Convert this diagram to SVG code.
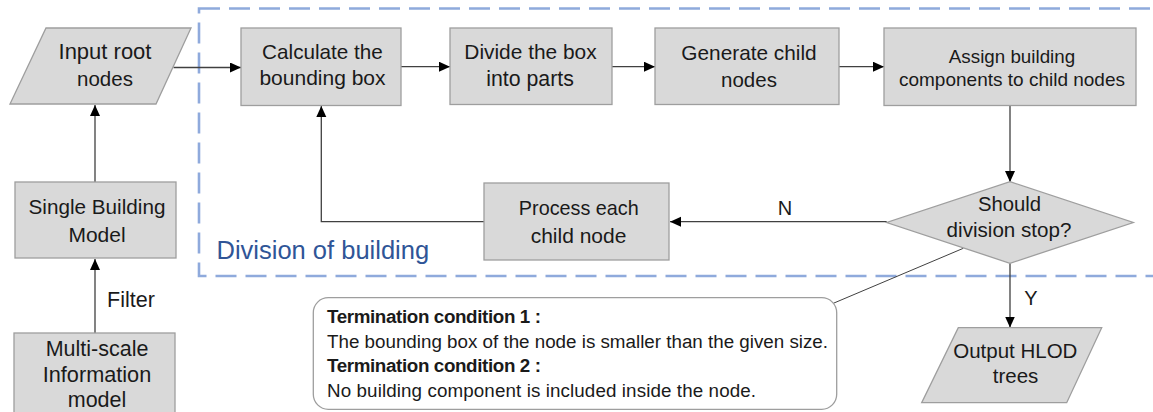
<svg xmlns="http://www.w3.org/2000/svg" width="1153" height="412" viewBox="0 0 1153 412">
<style>
.box{fill:#d9d9d9;stroke:#9e9e9e;stroke-width:1.3}
.t{font-family:"Liberation Sans",Arial,sans-serif;fill:#1a1a1a;text-anchor:middle}
.c{fill:none;stroke:#404040;stroke-width:1.3}
.ct{font-family:"Liberation Sans",Arial,sans-serif;fill:#1a1a1a;font-size:18.8px}
.b{font-weight:bold}
</style>
<defs>
<marker id="ah" markerUnits="userSpaceOnUse" markerWidth="12" markerHeight="11" refX="11" refY="5" orient="auto">
<path d="M0,0 L11,5 L0,10 Z" fill="#000"/>
</marker>
</defs>
<rect width="1153" height="412" fill="#fff"/>

<g id="division-frame">
<rect x="199" y="8.5" width="1010" height="267.5" fill="none" stroke="#8faadc" stroke-width="2.6" stroke-dasharray="21 9"/>
<text x="216.5" y="259.3" style="font-family:'Liberation Sans',Arial,sans-serif;font-size:25.5px;fill:#2f5597">Division of building</text>
</g>

<g id="connectors">
<line class="c" x1="95" y1="182" x2="95" y2="105" marker-end="url(#ah)"/>
<line class="c" x1="95" y1="333" x2="95" y2="259" marker-end="url(#ah)"/>
<text class="t" x="131" y="307.3" font-size="21.5">Filter</text>
<line class="c" x1="173.5" y1="67.5" x2="241" y2="67.5" marker-end="url(#ah)"/>
<line class="c" x1="401" y1="66.7" x2="450" y2="66.7" marker-end="url(#ah)"/>
<line class="c" x1="612" y1="66.7" x2="655" y2="66.7" marker-end="url(#ah)"/>
<line class="c" x1="839" y1="66.7" x2="884" y2="66.7" marker-end="url(#ah)"/>
<line class="c" x1="1010" y1="105.5" x2="1010" y2="182" marker-end="url(#ah)"/>
<line class="c" x1="886.7" y1="221.7" x2="670" y2="221.7" marker-end="url(#ah)"/>
<text class="t" x="785" y="215" font-size="20">N</text>
<polyline class="c" points="484,221.7 321.3,221.7 321.3,106" marker-end="url(#ah)"/>
<line class="c" x1="1010" y1="263.3" x2="1010" y2="327.5" marker-end="url(#ah)"/>
<text class="t" x="1031" y="305" font-size="20">Y</text>
<line x1="963.3" y1="248.3" x2="833.3" y2="303.3" stroke="#404040" stroke-width="1"/>
</g>

<g id="input-root">
<polygon class="box" points="46,28 191,28 156,104 10,104"/>
<text class="t" x="105" y="58.7" font-size="22">Input root</text>
<text class="t" x="105" y="86" font-size="20.5">nodes</text>
</g>

<g id="single-building">
<rect class="box" x="15" y="182" width="161" height="76"/>
<text class="t" x="97" y="214.3" font-size="20.7">Single Building</text>
<text class="t" x="97" y="241.7" font-size="21">Model</text>
</g>

<g id="multi-scale">
<rect class="box" x="14" y="333" width="161" height="95"/>
<text class="t" x="97" y="356" font-size="21.5">Multi-scale</text>
<text class="t" x="97" y="381.5" font-size="21.7">Information</text>
<text class="t" x="97" y="406.5" font-size="21.5">model</text>
</g>

<g id="calculate">
<rect class="box" x="241" y="28" width="160" height="77.5"/>
<text class="t" x="322.5" y="59" font-size="20.7">Calculate the</text>
<text class="t" x="322.5" y="84.5" font-size="21">bounding box</text>
</g>

<g id="divide">
<rect class="box" x="450" y="28" width="162" height="76.5"/>
<text class="t" x="530.5" y="59.3" font-size="20.9">Divide the box</text>
<text class="t" x="530" y="85.5" font-size="21.3">into parts</text>
</g>

<g id="generate">
<rect class="box" x="655" y="28" width="184" height="76.5"/>
<text class="t" x="749" y="60" font-size="20.8">Generate child</text>
<text class="t" x="749" y="86.5" font-size="20.5">nodes</text>
</g>

<g id="assign">
<rect class="box" x="884" y="28" width="252" height="77.5"/>
<text class="t" x="1012" y="62.7" font-size="18.8">Assign building</text>
<text class="t" x="1012" y="86" font-size="19">components to child nodes</text>
</g>

<g id="decision">
<polygon class="box" points="1010,181.7 1133.3,222.5 1010,263.3 886.7,222.5"/>
<text class="t" x="1009.5" y="210.7" font-size="20.3">Should</text>
<text class="t" x="1009" y="236.7" font-size="20.6">division stop?</text>
</g>

<g id="process">
<rect class="box" x="484" y="183" width="185" height="77"/>
<text class="t" x="578.8" y="215" font-size="19.8">Process each</text>
<text class="t" x="578.5" y="242.7" font-size="21">child node</text>
</g>

<g id="output">
<polygon class="box" points="958.3,327.7 1101.7,327.7 1066.7,402.7 921.7,402.7"/>
<text class="t" x="1015.3" y="358.3" font-size="20.5">Output HLOD</text>
<text class="t" x="1015.5" y="383.3" font-size="20.5">trees</text>
</g>

<g id="callout">
<rect x="313.3" y="297.7" width="523.4" height="111.6" rx="15" fill="#fff" stroke="#9e9e9e" stroke-width="1.3"/>
<text class="ct b" x="327" y="323.3" textLength="214">Termination condition 1 :</text>
<text class="ct" x="327" y="348.3" textLength="501">The bounding box of the node is smaller than the given size.</text>
<text class="ct b" x="327" y="372.3" textLength="214">Termination condition 2 :</text>
<text class="ct" x="327" y="396.7" textLength="429">No building component is included inside the node.</text>
</g>
</svg>
